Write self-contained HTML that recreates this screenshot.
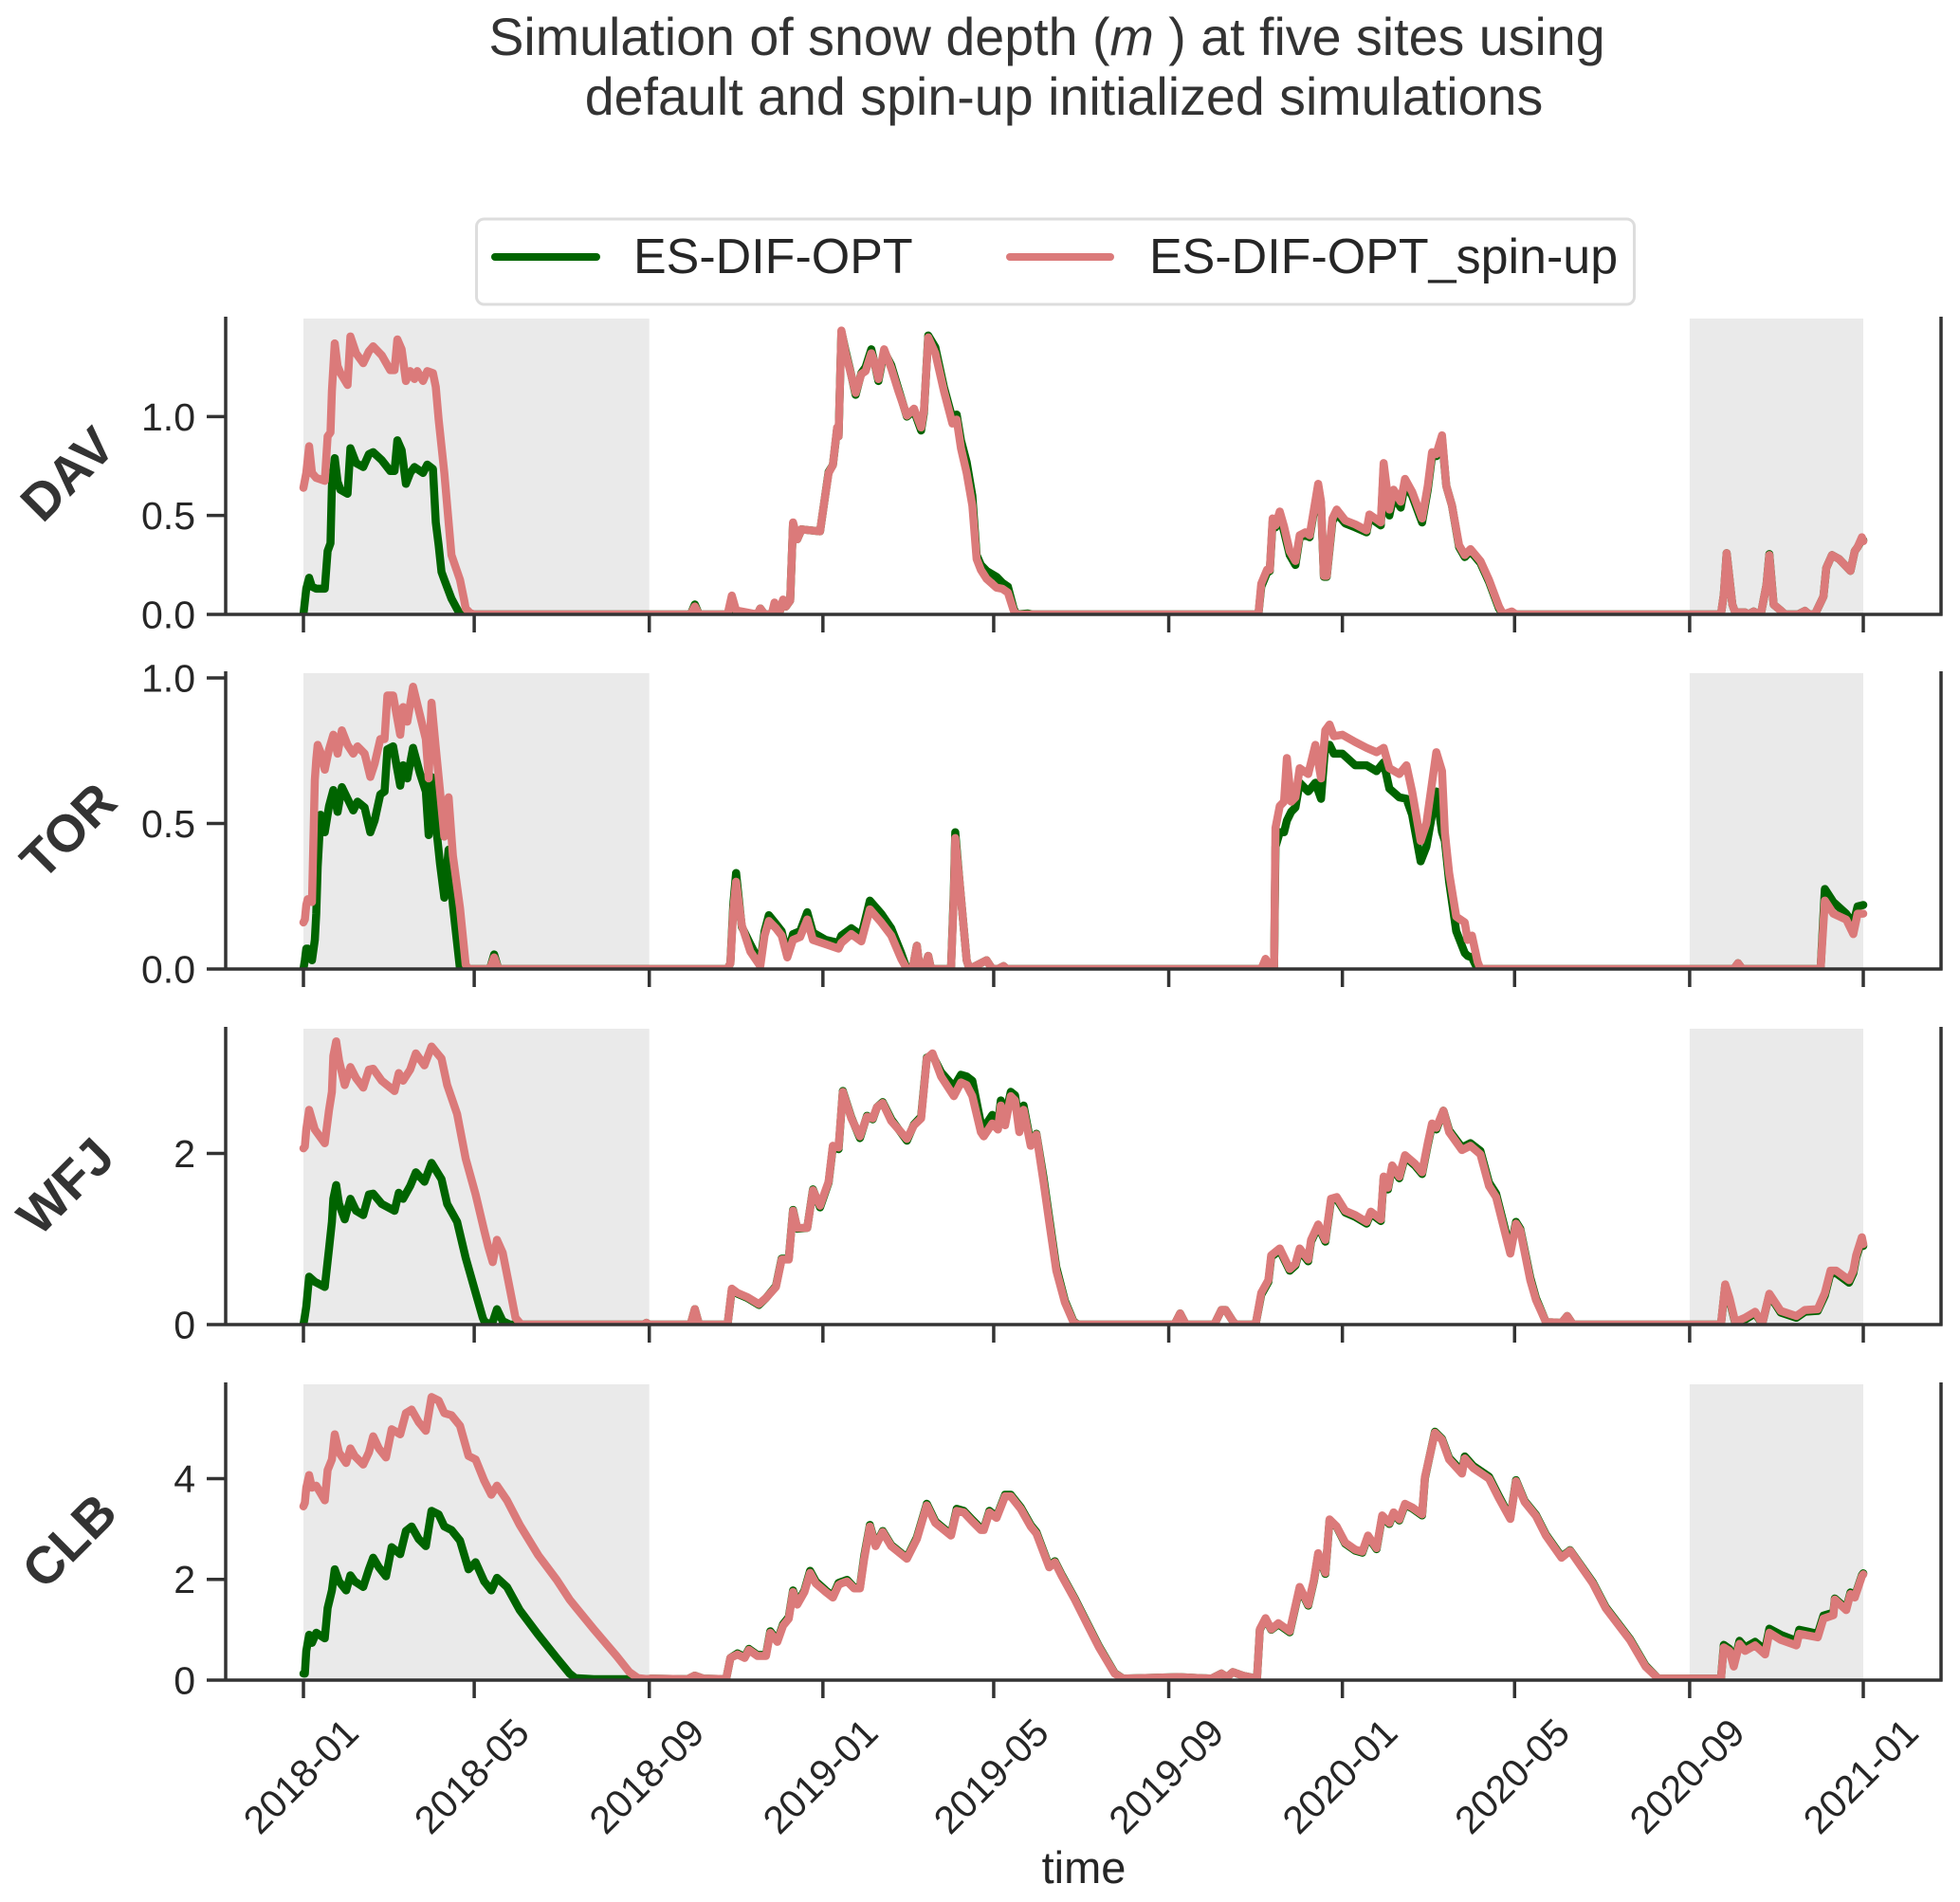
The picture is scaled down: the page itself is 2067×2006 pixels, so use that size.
<!DOCTYPE html>
<html lang="en">
<head>
<meta charset="utf-8">
<title>Simulation of snow depth</title>
<style>
  html, body { margin: 0; padding: 0; background: #ffffff; }
  svg { display: block; font-family: "Liberation Sans", Arial, sans-serif; }
</style>
</head>
<body>
<svg id="chart" xmlns="http://www.w3.org/2000/svg" width="2067" height="2006" viewBox="0 0 2067 2006">
  <rect x="0" y="0" width="2067" height="2006" fill="#ffffff"/>
  <g fill="#333333" font-size="55.6" text-anchor="middle">
    <text x="1104" y="58">Simulation of snow depth (<tspan font-style="italic">m</tspan> ) at five sites using</text>
    <text x="1122" y="121">default and spin-up initialized simulations</text>
  </g>
  <g id="panels"></g>
  <g>
    <rect x="502.5" y="231" width="1221" height="90" rx="8" ry="8" fill="#ffffff" stroke="#dddddd" stroke-width="3"/>
    <line x1="522" y1="271" x2="629" y2="271" stroke="#006400" stroke-width="8" stroke-linecap="round"/>
    <text x="668" y="288" font-size="52" fill="#262626">ES-DIF-OPT</text>
    <line x1="1065" y1="271" x2="1171" y2="271" stroke="#db7a7a" stroke-width="8" stroke-linecap="round"/>
    <text x="1212" y="288" font-size="52" fill="#262626">ES-DIF-OPT_spin-up</text>
  </g>
  <text x="1143" y="1986" font-size="47" fill="#262626" text-anchor="middle">time</text>
</svg>
<script>
// ---------- axis data ----------
const xTickDays = [0, 120, 243, 365, 485, 608, 730, 851, 974, 1096];
const xTickLabels = ["2018-01", "2018-05", "2018-09", "2019-01", "2019-05", "2019-09", "2020-01", "2020-05", "2020-09", "2021-01"];
const shadedPeriodStarts = [0, 974];
const shadedPeriodEnds = [243, 1096];

const davTicks = [0, 0.5, 1];
const davTickLabels = ["0.0", "0.5", "1.0"];
const torTicks = [0, 0.5, 1];
const torTickLabels = ["0.0", "0.5", "1.0"];
const wfjTicks = [0, 2];
const wfjTickLabels = ["0", "2"];
const clbTicks = [0, 2, 4];
const clbTickLabels = ["0", "2", "4"];

// ---------- DAV (days since 2018-01-01, snow depth in metres) ----------
const davDays = [
  0,2,4,6,9,15,17,19,20,22,24,26,31,33,37,42,46,49,55,61,64,66,69,72,75,78,80,84,87,91,93,95,97,99,104,110,113,114,117,120,
  272,275,278,298,301,304,
  319,321,324,329,331,333,335,337,339,342,
  344,347,350,356,363,366,369,372,375,376,
  378,381,384,388,392,395,399,401,404,408,
  413,418,424,429,434,436,439,444,450,456,
  459,462,466,470,473,476,480,487,491,495,
  499,501,509,512,
  660,670,671,673,677,679,681,683,686,689,
  693,697,700,704,707,710,713,715,717,719,
  723,726,732,739,747,749,757,759,761,763,
  766,771,774,779,786,790,793,796,800,803,
  807,812,816,820,827,833,840,843,849,852,
  990,996,998,1000,1004,1006,1013,1015,1019,1022,1024,1028,1030,1033,1038,1041,
  1050,1055,1058,1062,1068,1070,1074,1079,1087,1090,1092,1095,1096
];
const davDefault = [
  0,.13,.185,.14,.13,.13,.32,.36,.65,.79,.67,.63,.61,.84,.765,.745,.81,.82,.78,.725,.725,.88,.83,.66,.715,.745,.735,.715,.757,.735,.465,.35,.215,.175,.08,0,0,0,0,0,
  0,.05,0,0,.06,.01,
  0,.03,0,0,.05,.03,.02,.07,.04,.07,
  .46,.38,.43,.425,.42,.57,.72,.755,.94,.90,
  1.43,1.33,1.24,1.11,1.22,1.25,1.34,1.28,1.18,1.33,
  1.26,1.14,1.00,1.03,.93,1.02,1.41,1.35,1.15,.99,
  1.01,.88,.77,.60,.30,.25,.22,.19,.16,.14,
  .03,0,.005,0,
  0,0,0,.14,.21,.22,.47,.44,.50,.42,
  .30,.25,.39,.40,.39,.52,.65,.56,.19,.19,
  .47,.51,.46,.44,.415,.49,.45,.74,.62,.50,
  .60,.54,.66,.60,.465,.63,.80,.80,.89,.65,
  .55,.34,.29,.32,.26,.165,.03,0,.01,0,
  0,0,.10,.31,.05,.01,.01,0,.015,0,0,.15,.305,.05,.02,0,
  0,.018,0,0,.09,.235,.30,.28,.22,.32,.34,.38,.375
];
const davSpinup = [
  .64,.715,.85,.715,.69,.675,.90,.92,1.13,1.37,1.255,1.22,1.16,1.405,1.32,1.27,1.33,1.355,1.31,1.235,1.235,1.39,1.34,1.18,1.23,1.19,1.23,1.18,1.23,1.22,1.15,.985,.85,.715,.30,.175,.07,.03,.008,0,
  0,.04,0,0,.095,.02,
  0,.03,0,0,.06,.03,.02,.075,.04,.07,
  .465,.38,.43,.425,.42,.57,.715,.755,.945,.90,
  1.435,1.32,1.235,1.12,1.215,1.23,1.32,1.28,1.19,1.34,
  1.245,1.13,1.005,1.04,.945,1.03,1.40,1.32,1.13,.965,
  .985,.84,.715,.55,.28,.225,.18,.135,.13,.11,
  .02,0,0,0,
  0,0,0,.155,.225,.225,.485,.45,.52,.445,
  .32,.27,.40,.415,.40,.53,.66,.57,.195,.195,
  .485,.53,.475,.455,.425,.505,.465,.765,.65,.53,
  .63,.57,.685,.62,.485,.65,.82,.81,.905,.65,
  .55,.35,.30,.33,.27,.175,.04,0,.015,0,
  0,0,.10,.31,.05,.01,.01,0,.015,0,0,.15,.30,.05,.02,0,
  0,.018,0,0,.09,.235,.30,.28,.22,.32,.34,.39,.37
];

// ---------- TOR ----------
const torDays = [
  0,1,2,3,6,8,9,10,12,15,
  18,21,24,27,31,35,38,43,47,50,
  54,57,59,63,68,70,73,77,82,86,
  88,90,93,96,99,102,105,110,114,116,
  131,134,137,298,300,302,304,308,314,321,
  324,327,332,336,340,344,349,354,358,367,
  376,378,385,392,398,406,413,420,424,428,
  431,433,436,439,441,455,457,458,461,466,
  468,480,484,488,492,494,
  673,676,680,682,683,686,689,691,694,697,
  700,706,711,715,718,721,724,730,739,747,
  754,759,763,770,775,779,785,789,793,796,
  800,802,805,810,816,818,821,825,827,1005,
  1008,1011,1066,1069,1075,1084,1089,1092,1096
];
const torDefault = [
  0,.03,.07,.07,.03,.10,.19,.35,.53,.47,
  .56,.615,.54,.625,.585,.545,.575,.555,.47,.51,
  .60,.61,.755,.765,.63,.70,.655,.76,.67,.61,
  .46,.66,.50,.36,.245,.41,.22,0,0,0,
  0,.05,0,0,.02,.22,.33,.145,.085,.02,
  .13,.185,.155,.13,.05,.12,.13,.195,.125,.10,
  .09,.115,.14,.115,.235,.19,.14,.055,0,0,
  .08,0,0,.045,0,0,.27,.47,.30,.03,
  0,.03,0,0,.01,0,
  0,.03,0,0,.42,.47,.47,.51,.54,.555,
  .64,.61,.64,.585,.77,.77,.74,.74,.70,.70,
  .68,.71,.62,.59,.585,.53,.37,.42,.53,.61,
  .47,.44,.30,.13,.055,.045,.04,0,0,0,
  .02,0,0,.275,.23,.19,.155,.215,.22
];
const torSpinup = [
  .16,.17,.22,.24,.23,.65,.72,.77,.745,.685,
  .755,.805,.74,.82,.77,.74,.765,.74,.66,.705,
  .79,.79,.94,.94,.805,.90,.85,.97,.87,.79,
  .655,.915,.76,.61,.455,.59,.39,.21,.015,0,
  0,.04,0,0,.02,.20,.30,.15,.06,.01,
  .115,.165,.14,.115,.04,.10,.11,.17,.10,.085,
  .07,.09,.12,.095,.205,.16,.115,.035,0,0,
  .08,0,0,.045,0,0,.25,.45,.30,.03,
  0,.03,0,0,.01,0,
  0,.035,0,0,.485,.56,.575,.725,.575,.59,
  .69,.67,.77,.655,.82,.84,.80,.805,.78,.76,
  .745,.76,.69,.67,.70,.61,.44,.50,.64,.745,
  .68,.47,.33,.18,.16,.10,.115,.025,0,0,
  .02,0,0,.235,.19,.17,.12,.19,.19
];

// ---------- WFJ ----------
const wfjDays = [
  0,1,2,4,8,15,18,20,21,23,
  25,29,33,37,42,46,49,55,64,67,
  70,75,79,85,90,97,101,108,114,121,
  126,127,130,133,136,140,145,149,153,239,
  241,243,272,275,278,298,301,305,312,320,
  325,332,336,341,344,347,354,358,363,369,
  372,376,379,385,391,396,400,403,407,413,
  424,429,434,438,442,448,457,462,466,470,
  476,478,484,488,490,493,497,500,503,506,
  511,515,520,524,529,535,541,544,612,616,
  620,640,645,648,653,655,669,673,678,680,
  686,693,697,700,706,708,713,718,722,726,
  732,739,747,750,757,759,762,765,770,774,
  781,786,790,793,796,801,805,814,820,827,
  833,838,848,852,855,862,866,873,884,888,
  892,996,999,1002,1006,1013,1020,1025,1030,1038,
  1049,1055,1064,1069,1073,1077,1086,1089,1091,1095,
  1096
];
const wfjDefault = [
  0,.10,.21,.56,.50,.44,.89,1.20,1.47,1.63,
  1.41,1.23,1.47,1.33,1.28,1.52,1.53,1.41,1.33,1.54,
  1.47,1.62,1.78,1.67,1.89,1.70,1.41,1.20,.78,.37,
  .08,.04,.01,.03,.18,.04,0,0,0,0,
  .02,0,0,.18,0,0,.41,.36,.31,.23,
  .31,.45,.77,.77,1.34,1.12,1.13,1.58,1.37,1.66,
  2.08,2.05,2.73,2.42,2.18,2.44,2.40,2.54,2.60,2.40,
  2.15,2.34,2.43,3.12,3.15,2.95,2.78,2.92,2.90,2.85,
  2.35,2.30,2.45,2.35,2.62,2.42,2.72,2.68,2.35,2.56,
  2.12,2.23,1.72,1.25,.67,.28,.04,0,0,.13,
  0,0,.17,.17,.04,0,0,.35,.50,.79,
  .87,.63,.69,.87,.74,.97,1.15,.97,1.45,1.47,
  1.31,1.26,1.18,1.30,1.21,1.71,1.58,1.84,1.71,1.96,
  1.86,1.76,2.10,2.33,2.28,2.50,2.27,2.07,2.12,2.03,
  1.66,1.53,.87,1.20,1.12,.55,.31,.03,.02,.10,
  0,0,.46,.29,.02,.06,.13,.01,.35,.14,
  .08,.15,.16,.34,.60,.60,.49,.60,.78,.99,
  .92
];
const wfjSpinup = [
  2.06,2.08,2.28,2.51,2.28,2.12,2.51,2.72,3.14,3.31,
  3.09,2.80,3.01,2.88,2.77,2.98,2.99,2.85,2.73,2.94,
  2.85,2.98,3.17,3.03,3.25,3.11,2.80,2.46,1.94,1.52,
  1.17,1.10,.90,.73,.99,.84,.42,.08,0,0,
  .02,0,0,.18,0,0,.42,.37,.32,.24,
  .31,.44,.76,.76,1.33,1.13,1.13,1.57,1.39,1.67,
  2.09,2.07,2.72,2.41,2.20,2.43,2.41,2.54,2.59,2.38,
  2.17,2.33,2.41,3.11,3.17,2.90,2.67,2.83,2.80,2.67,
  2.25,2.20,2.35,2.28,2.56,2.33,2.67,2.62,2.25,2.51,
  2.09,2.22,1.67,1.20,.63,.26,.03,0,0,.13,
  0,0,.17,.17,.04,0,0,.37,.52,.81,
  .89,.65,.71,.89,.76,.99,1.17,.99,1.47,1.49,
  1.33,1.28,1.20,1.32,1.23,1.73,1.60,1.86,1.73,1.98,
  1.88,1.78,2.12,2.35,2.30,2.50,2.25,2.04,2.09,1.99,
  1.62,1.49,.83,1.18,1.10,.52,.29,.03,.02,.10,
  0,0,.47,.31,.03,.08,.15,.01,.36,.16,
  .10,.17,.18,.37,.63,.63,.52,.63,.81,1.02,
  .94
];

// ---------- CLB ----------
const clbDays = [
  0,1,2,4,6,9,15,17,20,22,
  25,30,33,36,42,46,49,53,58,62,
  68,72,76,81,86,90,95,99,104,110,
  116,121,127,132,136,143,152,165,178,187,
  191,204,220,229,235,242,244,270,275,281,
  297,300,305,310,313,319,325,328,333,337,
  341,344,347,352,356,360,367,372,376,378,
  382,387,391,394,398,402,407,413,424,431,
  438,444,455,459,464,470,476,478,482,487,
  493,497,504,511,515,524,528,533,542,550,
  559,570,576,616,638,645,649,653,660,670,
  672,676,680,685,693,700,706,710,713,718,
  721,726,732,739,744,748,754,758,763,766,
  770,774,779,786,788,795,800,805,814,816,
  822,833,840,848,852,858,866,873,884,890,
  906,915,932,943,952,996,998,1002,1005,1009,
  1013,1020,1027,1030,1038,1049,1051,1064,1068,1075,
  1076,1084,1087,1090,1095,1096
];
const clbDefault = [
  .13,.13,.58,.90,.74,.94,.83,1.43,1.78,2.20,
  1.96,1.78,2.08,1.96,1.85,2.20,2.43,2.24,2.06,2.64,
  2.50,2.96,3.05,2.80,2.66,3.36,3.29,3.05,2.98,2.77,
  2.20,2.34,1.96,1.78,2.03,1.85,1.39,.90,.44,.13,
  .04,.02,.02,.02,.02,.02,.03,.02,.09,.03,
  .02,.44,.53,.46,.62,.50,.50,.97,.78,1.11,
  1.25,1.78,1.52,1.78,2.17,1.96,1.78,1.67,1.93,1.95,
  1.99,1.84,1.84,2.46,3.08,2.68,2.96,2.68,2.43,2.83,
  3.50,3.15,2.89,3.40,3.36,3.18,3.01,3.00,3.36,3.24,
  3.68,3.68,3.43,3.08,2.94,2.26,2.36,2.08,1.62,1.17,
  .67,.14,.03,.06,.03,.13,.06,.16,.09,.03,
  1.00,1.22,1.00,1.11,.95,1.83,1.48,1.97,2.50,2.11,
  3.18,3.04,2.71,2.57,2.53,2.85,2.60,3.25,3.10,3.31,
  3.17,3.48,3.41,3.27,4.01,4.93,4.79,4.41,4.14,4.44,
  4.25,4.04,3.65,3.22,3.97,3.56,3.28,2.89,2.45,2.58,
  1.94,1.45,.82,.29,.03,.03,.70,.62,.30,.78,
  .65,.76,.60,1.02,.90,.78,1.00,.92,1.28,1.34,
  1.62,1.42,1.74,1.66,2.08,2.12
];
const clbSpinup = [
  3.45,3.52,3.82,4.07,3.82,3.86,3.57,4.17,4.38,4.88,
  4.52,4.31,4.60,4.45,4.28,4.52,4.84,4.60,4.42,4.98,
  4.88,5.30,5.37,5.12,4.95,5.62,5.55,5.30,5.26,5.05,
  4.45,4.38,3.96,3.68,3.86,3.57,3.08,2.48,1.99,1.60,
  1.46,1.01,.48,.16,.04,.02,.03,.02,.09,.03,
  .02,.44,.51,.44,.60,.48,.48,.94,.76,1.08,
  1.22,1.75,1.50,1.75,2.13,1.92,1.75,1.64,1.89,1.92,
  1.96,1.82,1.82,2.41,3.05,2.66,2.94,2.66,2.41,2.80,
  3.47,3.12,2.87,3.36,3.33,3.15,2.98,2.98,3.33,3.22,
  3.65,3.65,3.40,3.05,2.91,2.24,2.34,2.06,1.60,1.15,
  .65,.13,.03,.06,.03,.13,.06,.16,.09,.03,
  1.01,1.23,1.01,1.13,.97,1.85,1.50,1.99,2.52,2.13,
  3.19,3.05,2.73,2.59,2.55,2.87,2.62,3.27,3.12,3.33,
  3.19,3.50,3.43,3.29,4.03,4.91,4.77,4.38,4.10,4.40,
  4.21,4.00,3.61,3.20,3.95,3.54,3.26,2.87,2.43,2.57,
  1.92,1.43,.80,.27,.03,.03,.65,.58,.27,.72,
  .58,.69,.51,.94,.80,.69,.92,.85,1.22,1.29,
  1.60,1.39,1.71,1.64,2.06,2.10
];

// ---------- drawing ----------
const SVG_NS = "http://www.w3.org/2000/svg";
const root = document.getElementById("panels");
const AXIS_COLOR = "#333333";
const TEXT_COLOR = "#262626";
const SPINE_LEFT = 238;
const SPINE_RIGHT = 2047;
const PANEL_HEIGHT = 314;
const SPINE_WIDTH = 3.5;
const LINE_WIDTH = 8.5;

function xScale(day) {
  return 320 + day * (1965 - 320) / 1096;
}

function makeEl(tag, parent, attrs) {
  const el = document.createElementNS(SVG_NS, tag);
  for (const key in attrs) {
    el.setAttribute(key, attrs[key]);
  }
  parent.appendChild(el);
  return el;
}

function seriesPath(days, values, yScale) {
  let d = "";
  for (let i = 0; i < days.length; i++) {
    d += (i === 0 ? "M" : "L") + xScale(days[i]).toFixed(2) + " " + yScale(values[i]).toFixed(2);
  }
  return d;
}

function drawPanel(site, isLast, baseY, yMax, ticks, tickLabels, days, defaultVals, spinupVals, labelX, labelY) {
  const topY = baseY - PANEL_HEIGHT;
  const yScale = function (v) { return baseY - v * PANEL_HEIGHT / yMax; };

  const g = makeEl("g", root, {});
  
  

  for (let i = 0; i < shadedPeriodStarts.length; i++) {
    const band = makeEl("rect", g, {
      x: xScale(shadedPeriodStarts[i]),
      y: topY + 2,
      width: xScale(shadedPeriodEnds[i]) - xScale(shadedPeriodStarts[i]),
      height: PANEL_HEIGHT - 2,
      fill: "#eaeaea"
    });
    
    
  }

  const clipId = "clip-" + site;
  const defs = makeEl("defs", g, {});
  const clip = makeEl("clipPath", defs, { id: clipId });
  makeEl("rect", clip, { x: SPINE_LEFT, y: topY - 2, width: SPINE_RIGHT - SPINE_LEFT, height: PANEL_HEIGHT + 2 });

  const lineDefault = makeEl("path", g, {
    d: seriesPath(days, defaultVals, yScale),
    fill: "none",
    stroke: "#006400",
    "stroke-width": LINE_WIDTH,
    "stroke-linejoin": "round",
    "stroke-linecap": "round",
    "clip-path": "url(#" + clipId + ")"
  });
  
  

  const lineSpinup = makeEl("path", g, {
    d: seriesPath(days, spinupVals, yScale),
    fill: "none",
    stroke: "#db7a7a",
    "stroke-width": LINE_WIDTH,
    "stroke-linejoin": "round",
    "stroke-linecap": "round",
    "clip-path": "url(#" + clipId + ")"
  });
  
  

  const leftSpine = makeEl("line", g, { x1: SPINE_LEFT, y1: topY, x2: SPINE_LEFT, y2: baseY + 1.5, stroke: AXIS_COLOR, "stroke-width": SPINE_WIDTH });
  
  
  const rightSpine = makeEl("line", g, { x1: SPINE_RIGHT, y1: topY, x2: SPINE_RIGHT, y2: baseY + 1.5, stroke: AXIS_COLOR, "stroke-width": SPINE_WIDTH });
  
  
  const bottomSpine = makeEl("line", g, { x1: SPINE_LEFT, y1: baseY, x2: SPINE_RIGHT + 1.5, y2: baseY, stroke: AXIS_COLOR, "stroke-width": SPINE_WIDTH });
  
  

  for (let i = 0; i < ticks.length; i++) {
    const ty = yScale(ticks[i]);
    const tick = makeEl("line", g, { x1: 218, y1: ty, x2: SPINE_LEFT, y2: ty, stroke: AXIS_COLOR, "stroke-width": SPINE_WIDTH });
    
    
    const label = makeEl("text", g, { x: 206, y: ty + 14.5, "font-size": 41, fill: TEXT_COLOR, "text-anchor": "end" });
    label.textContent = tickLabels[i];
    
    
  }

  for (let i = 0; i < xTickDays.length; i++) {
    const tx = xScale(xTickDays[i]);
    const tick = makeEl("line", g, { x1: tx, y1: baseY, x2: tx, y2: baseY + 19, stroke: AXIS_COLOR, "stroke-width": SPINE_WIDTH });
    
    
    if (isLast) {
      const cx = tx - 3;
      const cy = baseY + 101;
      const label = makeEl("text", g, {
        x: cx,
        y: cy + 14.5,
        "font-size": 41,
        fill: TEXT_COLOR,
        "text-anchor": "middle",
        transform: "rotate(-45 " + cx + " " + cy + ")"
      });
      label.textContent = xTickLabels[i];
      
      
    }
  }

  const siteLabel = makeEl("text", g, {
    x: labelX,
    y: labelY + 19,
    "font-size": 55,
    "font-weight": "bold",
    fill: AXIS_COLOR,
    "text-anchor": "middle",
    transform: "rotate(-45 " + labelX + " " + labelY + ")"
  });
  siteLabel.textContent = site.toUpperCase();
  
  
}

drawPanel("dav", false, 648, 1.505, davTicks, davTickLabels, davDays, davDefault, davSpinup, 71, 500);
drawPanel("tor", false, 1022, 1.023, torTicks, torTickLabels, torDays, torDefault, torSpinup, 72, 876);
drawPanel("wfj", false, 1397, 3.48, wfjTicks, wfjTickLabels, wfjDays, wfjDefault, wfjSpinup, 69, 1251);
drawPanel("clb", true, 1772, 5.91, clbTicks, clbTickLabels, clbDays, clbDefault, clbSpinup, 73, 1625);
</script>
</body>
</html>
